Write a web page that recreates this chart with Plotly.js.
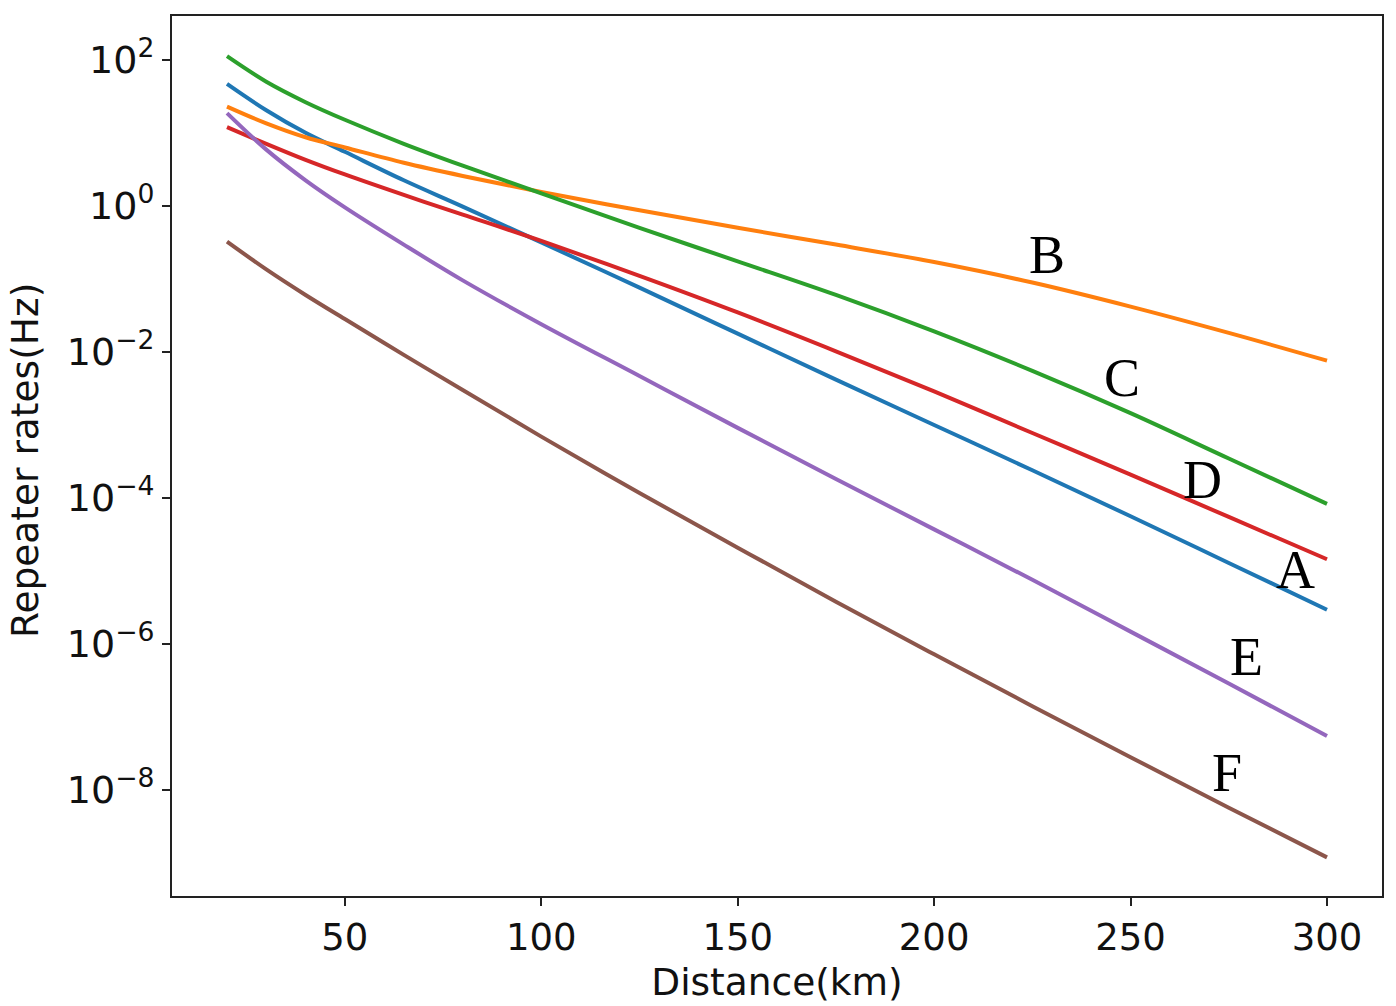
<!DOCTYPE html>
<html>
<head>
<meta charset="utf-8">
<script src="https://cdn.plot.ly/plotly-3.0.1.min.js"></script>
<style>
  html, body { margin: 0; padding: 0; background: #fff; }
  #chart { width: 1396px; height: 1006px; }
</style>
</head>
<body>
<div id="chart"></div>
<script>
// distance in km
const distance = [20, 30, 40, 50, 65, 80, 100, 125, 150, 175, 200, 225, 250, 275, 300];

// repeater rates (Hz)
const rateA = [46.8, 20.4, 10.0, 5.5, 2.24, 0.977, 0.316, 0.0759, 0.0178, 0.00417, 0.001, 2.4e-4, 5.62e-5, 1.29e-5, 2.95e-6];
const rateB = [22.9, 13.5, 8.71, 6.31, 3.89, 2.57, 1.55, 0.871, 0.501, 0.295, 0.17, 0.0891, 0.0417, 0.0182, 0.00759];
const rateC = [112, 50.1, 26.3, 15.1, 7.08, 3.55, 1.48, 0.501, 0.174, 0.0603, 0.0191, 0.0055, 0.00145, 3.47e-4, 8.32e-5];
const rateD = [12.0, 7.08, 4.27, 2.69, 1.41, 0.759, 0.331, 0.11, 0.0347, 0.0102, 0.00288, 7.76e-4, 2.09e-4, 5.5e-5, 1.45e-5];
const rateE = [18.6, 5.89, 2.24, 0.955, 0.295, 0.0955, 0.024, 0.00468, 9.12e-4, 1.82e-4, 3.72e-5, 7.59e-6, 1.48e-6, 2.88e-7, 5.5e-8];
const rateF = [0.324, 0.135, 0.0603, 0.0282, 0.00912, 0.00302, 6.92e-4, 1.17e-4, 2.09e-5, 3.8e-6, 7.24e-7, 1.41e-7, 2.82e-8, 5.75e-9, 1.2e-9];

const seriesNames = ['A', 'B', 'C', 'D', 'E', 'F'];

const yTickVals = [1e2, 1, 1e-2, 1e-4, 1e-6, 1e-8];
const yTickText = ['10<sup>2</sup>', '10<sup>0</sup>', '10<sup>\u22122</sup>', '10<sup>\u22124</sup>', '10<sup>\u22126</sup>', '10<sup>\u22128</sup>'];
const xTickVals = [50, 100, 150, 200, 250, 300];

const colors = ['#1f77b4', '#ff7f0e', '#2ca02c', '#d62728', '#9467bd', '#8c564b'];
const allRates = [rateA, rateB, rateC, rateD, rateE, rateF];

const data = allRates.map((r, i) => ({
    x: distance,
    y: r,
    name: seriesNames[i],
    type: 'scatter',
    mode: 'lines',
    line: { color: colors[i], width: 4, shape: 'spline', smoothing: 1 },
    hoverinfo: 'x+y+name'
}));

// letter labels next to each curve (log10 y, as plotly wants on log axes)
const labelSpots = {
    A: [292.1, -4.99],
    B: [228.7, -0.67],
    C: [247.8, -2.36],
    D: [268.2, -3.75],
    E: [279.4, -6.18],
    F: [274.5, -7.77]
};

const tickFont = { family: 'DejaVu Sans, sans-serif', size: 38, color: '#111' };
const titleFont = { family: 'DejaVu Sans, sans-serif', size: 37.5, color: '#111' };

const annotations = seriesNames.map(n => ({
    x: labelSpots[n][0],
    y: labelSpots[n][1],
    xref: 'x',
    yref: 'y',
    text: n,
    showarrow: false,
    font: { family: 'Liberation Serif, serif', size: 54, color: '#000' },
    xanchor: 'center',
    yanchor: 'middle'
}));

// y title as a rotated annotation so it can sit closer to the page edge
annotations.push({
    xref: 'paper',
    yref: 'paper',
    x: -0.121,
    y: 0.495,
    text: 'Repeater rates(Hz)',
    textangle: -90,
    showarrow: false,
    font: titleFont,
    xanchor: 'center',
    yanchor: 'middle'
});

const layout = {
    width: 1396,
    height: 1006,
    margin: { l: 172, r: 14, t: 16, b: 110 },
    paper_bgcolor: '#fff',
    plot_bgcolor: '#fff',
    showlegend: false,
    xaxis: {
        range: [6, 314],
        tickvals: xTickVals,
        ticks: 'outside',
        ticklen: 8,
        tickwidth: 2,
        tickcolor: '#222',
        showline: true,
        linecolor: '#222',
        linewidth: 2,
        mirror: true,
        showgrid: false,
        zeroline: false,
        tickfont: { family: 'DejaVu Sans, sans-serif', size: 37, color: '#111' },
        title: { text: 'Distance(km)', font: titleFont, standoff: 10 }
    },
    yaxis: {
        type: 'log',
        range: [-9.45, 2.6],
        tickvals: yTickVals,
        ticktext: yTickText,
        ticks: 'outside',
        ticklen: 8,
        tickwidth: 2,
        tickcolor: '#222',
        showline: true,
        linecolor: '#222',
        linewidth: 2,
        mirror: true,
        showgrid: false,
        zeroline: false,
        tickfont: tickFont
    },
    annotations: annotations
};

Plotly.newPlot('chart', data, layout, { staticPlot: true });
</script>
</body>
</html>
